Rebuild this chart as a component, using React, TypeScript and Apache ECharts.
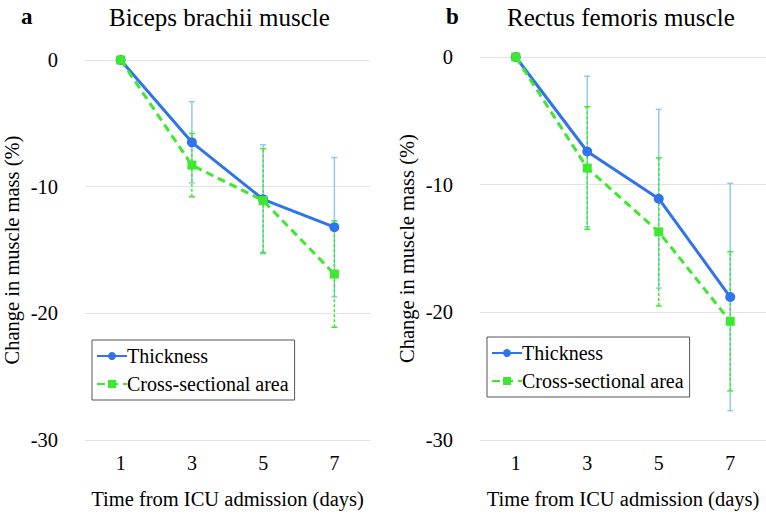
import React, { useEffect, useRef } from "react";
import * as echarts from "echarts";

const days = ["1", "3", "5", "7"];
const seriesNames = ["Thickness", "Cross-sectional area"];

// Panel a: Biceps brachii
const bicepsThickness = [0, -6.5, -11.0, -13.2];
const bicepsThicknessSD = [0, 3.2, 4.3, 5.5];
const bicepsCSA = [0, -8.3, -11.1, -16.9];
const bicepsCSASD = [0, 2.5, 4.1, 4.2];

// Panel b: Rectus femoris
const rectusThickness = [0, -7.4, -11.1, -18.8];
const rectusThicknessSD = [0, 5.9, 7.0, 8.9];
const rectusCSA = [0, -8.7, -13.7, -20.7];
const rectusCSASD = [0, 4.8, 5.8, 5.45];

const yTicks = { min: -30, max: 0, interval: 10 };

const BLUE = "#2f74ea";
const GREEN = "#3ee82e";
const LIGHTBLUE = "#8fcbe8";
const FONT = "Liberation Serif";

function errData(vals: number[], sd: number[]) {
  return vals.map((v, i) => [i, v - sd[i], v + sd[i]]);
}

function errSeries(name: string, idx: number, vals: number[], sd: number[], color: string, dashed: boolean) {
  return {
    type: "custom",
    name: name + " SD",
    xAxisIndex: idx,
    yAxisIndex: idx,
    z: 1,
    silent: true,
    data: errData(vals, sd).filter((d) => d[1] !== d[2]),
    renderItem: (params: any, api: any) => {
      const x = api.value(0);
      const lo = api.coord([x, api.value(1)]);
      const hi = api.coord([x, api.value(2)]);
      const style = {
        stroke: color,
        lineWidth: 1.5,
        lineDash: dashed ? [3, 2] : null,
        fill: null,
      };
      const capStyle = { stroke: color, lineWidth: 1.5, fill: null };
      const hw = 3;
      return {
        type: "group",
        children: [
          { type: "line", shape: { x1: lo[0], y1: lo[1], x2: hi[0], y2: hi[1] }, style },
          { type: "line", shape: { x1: lo[0] - hw, y1: lo[1], x2: lo[0] + hw, y2: lo[1] }, style: capStyle },
          { type: "line", shape: { x1: hi[0] - hw, y1: hi[1], x2: hi[0] + hw, y2: hi[1] }, style: capStyle },
        ],
      };
    },
  };
}

function lineSeries(name: string, idx: number, vals: number[], isCSA: boolean) {
  return {
    type: "line",
    name,
    xAxisIndex: idx,
    yAxisIndex: idx,
    z: isCSA ? 4 : 3,
    data: vals,
    symbol: isCSA ? "rect" : "circle",
    symbolSize: isCSA ? 9 : 10,
    clip: false,
    lineStyle: { color: isCSA ? GREEN : BLUE, width: 3, type: isCSA ? [8, 5] : "solid" },
    itemStyle: { color: isCSA ? GREEN : BLUE },
  };
}

function App() {
  const ref = useRef<HTMLDivElement>(null);
  useEffect(() => {
    if (!ref.current) return;
    const chart = echarts.init(ref.current, null, { renderer: "svg" });
    const grids = [
      { left: 84, width: 286, top: 60, height: 386 },
      { left: 480, width: 286, top: 57, height: 386 },
    ];
    const xAxes = [0, 1].map((i) => ({
      type: "category",
      gridIndex: i,
      data: days,
      boundaryGap: true,
      axisLine: { show: false },
      axisTick: { show: false },
      axisLabel: { fontFamily: FONT, fontSize: 20, color: "#000", margin: 13 },
      name: "Time from ICU admission (days)",
      nameLocation: "middle",
      nameGap: 48,
      nameTextStyle: { fontFamily: FONT, fontSize: 20.5, color: "#000" },
    }));
    const yAxes = [0, 1].map((i) => ({
      type: "value",
      gridIndex: i,
      min: yTicks.min,
      max: yTicks.max,
      interval: yTicks.interval,
      axisLine: { show: false },
      axisTick: { show: false },
      splitLine: { show: true, lineStyle: { color: "#e3e3e3", width: 1 } },
      axisLabel: { fontFamily: FONT, fontSize: 20.5, color: "#000", margin: 27 },
      name: "Change in muscle mass (%)",
      nameLocation: "middle",
      nameGap: 63,
      nameRotate: 90,
      nameTextStyle: { fontFamily: FONT, fontSize: 20.5, color: "#000" },
    }));
    const legendBase = {
      orient: "vertical",
      data: seriesNames,
      itemWidth: 30,
      itemHeight: 10,
      itemGap: 8,
      borderColor: "#555",
      borderWidth: 1,
      backgroundColor: "#fff",
      padding: [6, 6, 6, 4],
      textStyle: { fontFamily: FONT, fontSize: 20, color: "#000", padding: [0, 0, 0, -5] },
    };
    chart.setOption({
      animation: false,
      title: [
        { text: "a", left: 16, top: 0, textStyle: { fontFamily: FONT, fontSize: 23, fontWeight: "bold", color: "#000" } },
        { text: "Biceps brachii muscle", left: 104, top: 0, textStyle: { fontFamily: FONT, fontSize: 25, fontWeight: "normal", color: "#000" } },
        { text: "b", left: 441, top: 0, textStyle: { fontFamily: FONT, fontSize: 23, fontWeight: "bold", color: "#000" } },
        { text: "Rectus femoris muscle", left: 502, top: 0, textStyle: { fontFamily: FONT, fontSize: 25, fontWeight: "normal", color: "#000" } },
      ],
      legend: [
        { ...legendBase, left: 92, top: 340 },
        { ...legendBase, left: 487, top: 337 },
      ],
      grid: grids,
      xAxis: xAxes,
      yAxis: yAxes,
      series: [
        errSeries("Thickness", 0, bicepsThickness, bicepsThicknessSD, LIGHTBLUE, false),
        errSeries("CSA", 0, bicepsCSA, bicepsCSASD, GREEN, true),
        lineSeries(seriesNames[0], 0, bicepsThickness, false),
        lineSeries(seriesNames[1], 0, bicepsCSA, true),
        errSeries("Thickness", 1, rectusThickness, rectusThicknessSD, LIGHTBLUE, false),
        errSeries("CSA", 1, rectusCSA, rectusCSASD, GREEN, true),
        lineSeries(seriesNames[0], 1, rectusThickness, false),
        lineSeries(seriesNames[1], 1, rectusCSA, true),
      ],
    });
    return () => chart.dispose();
  }, []);
  return (
    <div
      ref={ref}
      style={{ position: "fixed", left: 0, top: 0, width: 766, height: 514, background: "#fff" }}
    />
  );
}

export default App;
